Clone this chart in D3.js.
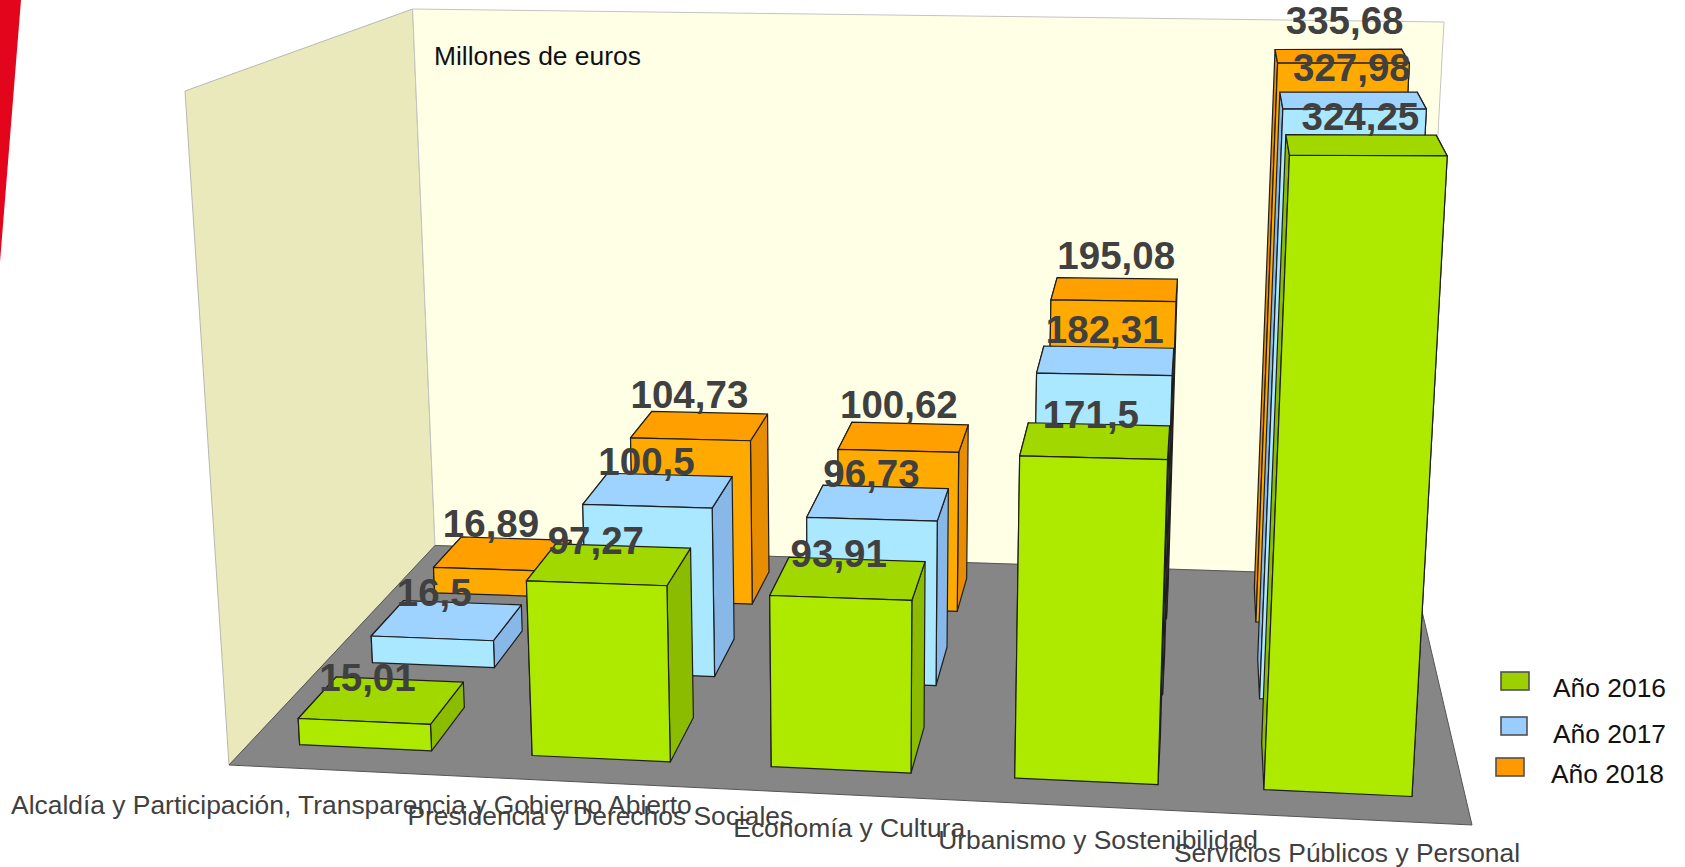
<!DOCTYPE html>
<html>
<head>
<meta charset="utf-8">
<title>Millones de euros</title>
<script src="https://cdn.jsdelivr.net/npm/d3@7"></script>
<style>
  html, body { margin: 0; padding: 0; background: #fff; overflow: hidden; }
  text { font-family: "Liberation Sans", Arial, sans-serif; }
</style>
</head>
<body>
<script>
////////// datos
const categories = [
  'Alcaldía y Participación, Transparencia y Gobierno Abierto',
  'Presidencia y Derechos Sociales',
  'Economía y Cultura',
  'Urbanismo y Sostenibilidad',
  'Servicios Públicos y Personal'
];
const years = ['Año 2016', 'Año 2017', 'Año 2018'];
const values2016 = [15.01, 97.27, 93.91, 171.5, 324.25];
const values2017 = [16.5, 100.5, 96.73, 182.31, 327.98];
const values2018 = [16.89, 104.73, 100.62, 195.08, 335.68];
const seriesValues = [values2016, values2017, values2018];

const frontColors = ['#aeea00', '#aae8ff', '#ffaa00'];
const topColors = ['#a0d800', '#9fd3ff', '#ff9f00'];
const sideColors = ['#8cbc00', '#88b8e8', '#e88c00'];
const legendColors = ['#9ed000', '#99ccff', '#ff9900'];

////////// perspectiva: esquinas del suelo y punto de fuga de las verticales
const floorFL = [229, 765], floorFR = [1472, 825], floorBR = [1414, 577], floorBL = [435, 545.5];
const vanish = [862, 10783];
const heightK = -0.0617;

function floorMatrix(p0, p1, p2, p3) {
  const dx1 = p1[0] - p2[0], dy1 = p1[1] - p2[1];
  const dx2 = p3[0] - p2[0], dy2 = p3[1] - p2[1];
  const sx = p0[0] - p1[0] + p2[0] - p3[0], sy = p0[1] - p1[1] + p2[1] - p3[1];
  const det = dx1 * dy2 - dx2 * dy1;
  const g = (sx * dy2 - dx2 * sy) / det;
  const h = (dx1 * sy - sx * dy1) / det;
  return {
    a: p1[0] - p0[0] + g * p1[0], b: p3[0] - p0[0] + h * p3[0], c: p0[0],
    d: p1[1] - p0[1] + g * p1[1], e: p3[1] - p0[1] + h * p3[1], f: p0[1],
    g: g, h: h
  };
}
const H = floorMatrix(floorFL, floorFR, floorBR, floorBL);

// la separación de columnas del original no es del todo regular
const xWarp = d3.scaleLinear()
  .domain([0, 0.044, 0.156, 0.244, 0.356, 0.444, 0.556, 0.644, 0.756, 0.844, 0.956, 1])
  .range([0, 0.044, 0.16, 0.247, 0.3645, 0.449, 0.564, 0.648, 0.762, 0.845, 0.959, 1]);

// x y z van de 0 a 1: x a lo ancho, y en altura, z en profundidad
function project(x0, y, z) {
  const x = xWarp(x0);
  const s = y * heightK;
  const w = H.g * x + H.h * z + 1;
  const px = H.a * x + H.b * z + H.c;
  const py = H.d * x + H.e * z + H.f;
  return [(px + s * vanish[0]) / (w + s), (py + s * vanish[1]) / (w + s)];
}

////////// escalas
const xBand = d3.scaleBand().domain(categories).range([0, 1]).paddingInner(0.44).paddingOuter(0.22);
const zBand = d3.scaleBand().domain(years).range([0, 1]).paddingInner(0.5).paddingOuter(0.25);
const yScale = d3.scaleLinear().domain([0, 200, 350]).range([0, 200 / 350, 0.995]);
const labelShift = d3.scaleLinear().domain([0.1, 0.3, 0.5, 0.7, 0.9]).range([-28, -23, -14, -4, 3]);
const labelShiftSeries = [-4, 0, 3];
const labelDy = [12, 4, -1];
const catX = d3.scalePoint().domain(categories).range([351.4, 1347]);

const line = d3.line();
const svg = d3.select('body').append('svg').attr('width', 1685).attr('height', 867);

// franja roja del margen
svg.append('path')
  .attr('d', line([[0, 0], [21, 0], [0, 262]]) + 'Z')
  .attr('fill', '#e3051b');

////////// paredes y suelo
const wallFL = [185, 91], wallBL = [412.6, 9], wallBR = [1444, 22];

svg.append('path')
  .attr('d', line([wallFL, wallBL, floorBL, floorFL]) + 'Z')
  .attr('fill', '#e9e9bb').attr('stroke', '#b8b8b0').attr('stroke-width', 1);
svg.append('path')
  .attr('d', line([wallBL, wallBR, floorBR, floorBL]) + 'Z')
  .attr('fill', '#ffffe6').attr('stroke', '#c4c4c0').attr('stroke-width', 1);
svg.append('path')
  .attr('d', line([floorBL, floorBR, floorFR, floorFL]) + 'Z')
  .attr('fill', '#868686').attr('stroke', '#555').attr('stroke-width', 1);

////////// barras, de atrás hacia delante
const bars = [];
d3.range(years.length - 1, -1, -1).forEach(s => {
  categories.forEach((cat, i) => {
    bars.push({ s: s, cat: cat, value: seriesValues[s][i] });
  });
});

function corners(d) {
  const x0 = xBand(d.cat), x1 = x0 + xBand.bandwidth();
  const z0 = zBand(years[d.s]), z1 = z0 + zBand.bandwidth();
  const t = yScale(d.value);
  return {
    left: [project(x0, 0, z0), project(x0, 0, z1), project(x0, t, z1), project(x0, t, z0)],
    right: [project(x1, 0, z0), project(x1, 0, z1), project(x1, t, z1), project(x1, t, z0)],
    top: [project(x0, t, z0), project(x1, t, z0), project(x1, t, z1), project(x0, t, z1)],
    front: [project(x0, 0, z0), project(x1, 0, z0), project(x1, t, z0), project(x0, t, z0)]
  };
}

const barGroups = svg.selectAll('g.bar').data(bars).join('g').attr('class', 'bar');

function addFace(name, colors) {
  barGroups.append('path')
    .attr('d', d => line(corners(d)[name]) + 'Z')
    .attr('fill', d => colors[d.s])
    .attr('stroke', '#1e1e1e')
    .attr('stroke-width', 1.2)
    .attr('stroke-linejoin', 'round');
}
addFace('left', sideColors);
addFace('right', sideColors);
addFace('top', topColors);
addFace('front', frontColors);

////////// etiquetas de valor
svg.selectAll('text.value').data(bars).join('text')
  .attr('class', 'value')
  .attr('transform', d => {
    const xc = xBand(d.cat) + xBand.bandwidth() / 2;
    const z1 = zBand(years[d.s]) + zBand.bandwidth();
    const p = project(xc, yScale(d.value * 1.026), z1);
    return 'translate(' + (p[0] + labelShift(xc) + labelShiftSeries[d.s]) + ',' + (p[1] + labelDy[d.s]) + ')';
  })
  .attr('text-anchor', 'middle')
  .attr('font-size', 38.5)
  .attr('font-weight', 'bold')
  .attr('fill', '#404040')
  .text(d => String(d.value).replace('.', ','));

////////// etiquetas de categoría
svg.selectAll('text.cat').data(categories).join('text')
  .attr('class', 'cat')
  .attr('transform', d => {
    const p = project(xBand(d) + xBand.bandwidth() / 2, 0, 0);
    return 'translate(' + catX(d) + ',' + (p[1] + 43) + ')';
  })
  .attr('text-anchor', 'middle')
  .attr('font-size', 26.4)
  .attr('fill', '#404040')
  .text(d => d);

svg.append('text')
  .attr('x', 434).attr('y', 65)
  .attr('font-size', 26.4)
  .attr('fill', '#111')
  .text('Millones de euros');

////////// leyenda
const legendBoxX = [1501, 1501, 1496];
const legendBoxY = [672, 717, 758];
const legendBoxW = [28, 26, 28];
const legendTextX = [1553, 1553, 1551];
const legendTextY = [697, 743, 783];

const legend = svg.selectAll('g.legend').data(years).join('g').attr('class', 'legend');
legend.append('rect')
  .attr('x', (d, i) => legendBoxX[i])
  .attr('y', (d, i) => legendBoxY[i])
  .attr('width', (d, i) => legendBoxW[i])
  .attr('height', 18)
  .attr('fill', (d, i) => legendColors[i])
  .attr('stroke', '#505050')
  .attr('stroke-width', 1.6);
legend.append('text')
  .attr('x', (d, i) => legendTextX[i])
  .attr('y', (d, i) => legendTextY[i])
  .attr('font-size', 26.4)
  .attr('fill', '#111')
  .text(d => d);
</script>
</body>
</html>
